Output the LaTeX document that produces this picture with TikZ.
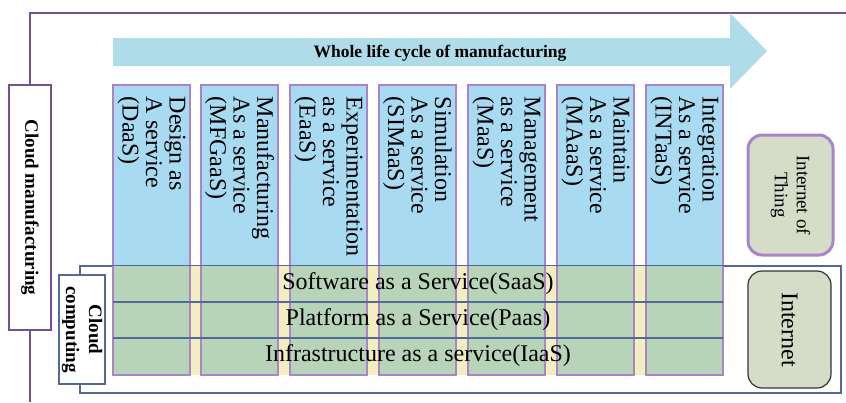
\documentclass[tikz,border=0pt]{standalone}
\usepackage{fontspec}
\setmainfont{Liberation Serif}
\usetikzlibrary{positioning,calc}

\definecolor{svcblue}{RGB}{168,218,242}
\definecolor{svcpurple}{RGB}{170,132,200}
\definecolor{bandgreen}{RGB}{184,212,184}
\definecolor{gapyellow}{RGB}{242,238,192}
\definecolor{lifeblue}{RGB}{174,220,232}
\definecolor{cmpurple}{RGB}{118,80,150}
\definecolor{ccline}{RGB}{84,104,150}
\definecolor{netgreen}{RGB}{213,221,201}

\begin{document}
\begin{tikzpicture}[
    x=1pt, y=-1pt,
    every node/.style={inner sep=0pt},
    svcbox/.style={rectangle, draw=svcpurple, line width=2.5pt, minimum width=77pt, minimum height=290pt},
    svctext/.style={rotate=-90, anchor=west, align=left, font=\fontsize{24}{23.5}\selectfont},
    rowtext/.style={minimum width=610pt, minimum height=36pt, font=\fontsize{24}{26}\selectfont},
    rowline/.style={draw=ccline, line width=1.5pt},
    cmbox/.style={rectangle, rotate=-90, draw=cmpurple, line width=2pt, fill=white, minimum width=245pt, minimum height=42pt, font=\fontsize{19}{22}\bfseries},
    ccbox/.style={rectangle, rotate=-90, draw=ccline, line width=1.2pt, fill=white, align=center, minimum width=109pt, minimum height=46pt, font=\fontsize{19}{23}\bfseries},
    netbox/.style={rectangle, rounded corners=14pt, rotate=-90, fill=netgreen, align=center},
    font=\normalsize
  ]
    \useasboundingbox (0,0) rectangle (846,402);

    \node[cmbox] (cm) at (30,207.5) {Cloud manufacturing};
    \coordinate (fcorner) at (30,13);
    \coordinate (fright) at (846,13);
    \coordinate (fbottom) at (30,402);
    \draw[cmpurple, line width=2pt] (cm.west) -- (fcorner) -- (fright);
    \draw[cmpurple, line width=2pt] (cm.east) -- (fbottom);

    \fill[lifeblue] (113,38) -- (730,38) -- (730,13) -- (767,51) -- (730,89) -- (730,66) -- (113,66) -- cycle;
    \node[font=\fontsize{17.5}{20}\bfseries] (life) at (440,53) {Whole life cycle of manufacturing};

    \node[draw=ccline, line width=1.5pt, minimum width=761pt, minimum height=127pt] (ccframe) at (460.5,329.5) {};
    \fill[gapyellow] (113,266) rectangle (723,375);

    \foreach \i/\x/\txt in {
        1/151.5/{Design as\\A service\\(DaaS)},
        2/239.5/{Manufacturing\\As a service\\(MFGaaS)},
        3/328.5/{Experimentation\\as a service\\(EaaS)},
        4/417.5/{Simulation\\As a service\\(SIMaaS)},
        5/506.5/{Management\\as a service\\(MaaS)},
        6/595.5/{Maintain\\As a service\\(MAaaS)},
        7/684.5/{Integration\\As a service\\(INTaaS)}} {
      \fill[svcblue] (\x-38.5,85) rectangle (\x+38.5,266);
      \fill[bandgreen] (\x-38.5,266) rectangle (\x+38.5,375);
      \node[svcbox] (col\i) at (\x,230) {};
      \node[svctext] (txt\i) at ([yshift=-13pt]col\i.north) {\txt};
    }

    \node[rowtext] (saas) at (418,284) {Software as a Service(SaaS)};
    \node[rowtext] (paas) at (418,320) {Platform as a Service(Paas)};
    \node[rowtext] (iaas) at (418,356) {Infrastructure as a service(IaaS)};
    \draw[rowline] (saas.south west) -- (saas.south east);
    \draw[rowline] (paas.south west) -- (paas.south east);
    \draw[rowline] (ccframe.north west) -- (ccframe.north east);

    \node[ccbox] (cc) at (82,329.5) {Cloud\\computing};

    \node[netbox, draw=svcpurple, line width=3pt, minimum width=120pt, minimum height=85pt, font=\fontsize{19}{22}\selectfont] (iot) at (790.5,195) {Internet of\\Thing};
    \node[netbox, draw=black!80, line width=1.2pt, minimum width=117pt, minimum height=83pt, font=\fontsize{24}{26}\selectfont] (net) at (789.5,329.5) {Internet};
  \end{tikzpicture}
\end{document}
